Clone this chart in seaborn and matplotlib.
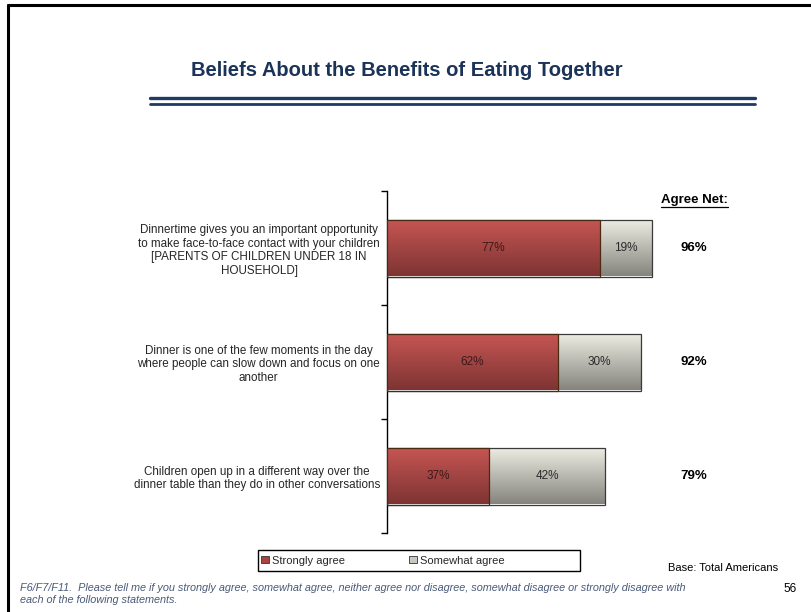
import numpy as np
import pandas as pd
import matplotlib
matplotlib.use("Agg")
import matplotlib.pyplot as plt
import matplotlib.patches as mpatches
from matplotlib.lines import Line2D
import seaborn as sns

statements = [
    "Dinnertime gives you an important opportunity\nto make face-to-face contact with your children\n[PARENTS OF CHILDREN UNDER 18 IN\nHOUSEHOLD]",
    "Dinner is one of the few moments in the day\nwhere people can slow down and focus on one\nanother",
    "Children open up in a different way over the\ndinner table than they do in other conversations",
]
strongly_agree = [77, 62, 37]
somewhat_agree = [19, 30, 42]
agree_net = [96, 92, 79]
series_names = ["Strongly agree", "Somewhat agree"]

sns.set_theme(style="white")
plt.rcParams["font.family"] = ["Liberation Sans", "DejaVu Sans"]
NARROW = ["Liberation Sans Narrow", "Liberation Sans", "DejaVu Sans"]

df = pd.DataFrame({
    "statement": statements,
    "strong": strongly_agree,
    "somewhat": somewhat_agree,
})
df["total"] = df["strong"] + df["somewhat"]

W, H = 812, 612
fig = plt.figure(figsize=(W / 100, H / 100), dpi=100)
fig.patch.set_facecolor("white")

# slide frame (top and left edges)
fig.add_artist(Line2D([8 / W, 1.0], [1 - 5 / H, 1 - 5 / H], color="black", lw=2.2,
                      transform=fig.transFigure))
fig.add_artist(Line2D([8 / W, 8 / W], [0, 1 - 5 / H], color="black", lw=2.2,
                      transform=fig.transFigure))

# title and double rule
fig.text(407 / W, 1 - 70 / H, "Beliefs About the Benefits of Eating Together",
         ha="center", va="center", fontsize=14.5, fontweight="bold",
         color="#1B3358", family=NARROW)
for yy, lw in [(98, 2.4), (104, 2.0)]:
    fig.add_artist(Line2D([150 / W, 755 / W], [1 - yy / H, 1 - yy / H],
                          color="#1F3A63", lw=lw, transform=fig.transFigure))

ax = fig.add_axes([387 / W, 1 - 533 / H, 276 / W, 342 / H])

sns.barplot(data=df, x="total", y="statement", orient="h", color="#C8C8C0",
            width=0.5, ax=ax, label=series_names[1])
sns.barplot(data=df, x="strong", y="statement", orient="h", color="#A94442",
            width=0.5, ax=ax, label=series_names[0])

n = len(statements)
gray_patches = ax.patches[:n]
red_patches = ax.patches[n:2 * n]

def shade(patch, top, bottom, edge, z):
    x0, y0 = patch.get_x(), patch.get_y()
    w, h = patch.get_width(), patch.get_height()
    c0 = np.array(matplotlib.colors.to_rgb(top))
    c1 = np.array(matplotlib.colors.to_rgb(bottom))
    t = np.linspace(0, 1, 64)[:, None]
    grad = (c0 * (1 - t) + c1 * t)[:, None, :]
    im = ax.imshow(grad, extent=[x0, x0 + w, y0 + h, y0], origin="upper",
                   aspect="auto", zorder=z, interpolation="bilinear")
    im.set_clip_path(patch)
    patch.set_facecolor("none")
    patch.set_edgecolor(edge)
    patch.set_linewidth(0.9)
    patch.set_zorder(z + 0.5)

for p in gray_patches:
    shade(p, "#EEEDE3", "#85857E", "#3A3A3A", 2)
for p in red_patches:
    shade(p, "#C65654", "#7E3433", "#4A2A10", 4)

ax.set_xlim(0, 100)
ax.set_ylim(n - 0.5, -0.5)

# value labels inside the bars, net totals to the right
for i in range(n):
    ax.text(df["strong"][i] / 2, i, f"{df['strong'][i]}%", ha="center", va="center",
            fontsize=8.5, color="#3A1A1A", zorder=6)
    ax.text(df["strong"][i] + df["somewhat"][i] / 2, i, f"{df['somewhat'][i]}%",
            ha="center", va="center", fontsize=8.5, color="#2A2A2A", zorder=6)
    ax.text(111, i, f"{agree_net[i]}%", ha="center", va="center", fontsize=9.5,
            fontweight="bold", color="black", clip_on=False)

hdr = ax.text(111.3, -0.42, "Agree Net:", ha="center", va="center", fontsize=9.5,
              fontweight="bold", color="black", clip_on=False)

# axes styling
for s in ["top", "right", "bottom"]:
    ax.spines[s].set_visible(False)
ax.spines["left"].set_color("black")
ax.spines["left"].set_linewidth(1.0)
ax.set_xticks([])
ax.set_xlabel("")
ax.set_ylabel("")
ax.set_yticks(range(n))
ax.set_yticklabels(statements, fontsize=8.4, color="#262626", linespacing=1.22)
for lbl in ax.get_yticklabels():
    lbl.set_multialignment("center")
ax.tick_params(axis="y", which="major", length=0, pad=5)
ax.set_yticks(np.arange(-0.5, n, 1.0), minor=True)
ax.tick_params(axis="y", which="minor", left=True, length=4, width=1.0, color="black",
               direction="out")
ax.grid(False)

# underline for the net header
fig.canvas.draw()
bb = hdr.get_window_extent(fig.canvas.get_renderer())
fig.add_artist(Line2D([bb.x0 / W, bb.x1 / W], [(bb.y0 - 1) / H, (bb.y0 - 1) / H],
                      color="black", lw=0.9, transform=fig.transFigure))

# legend
if ax.get_legend() is not None:
    ax.get_legend().remove()
fig.add_artist(mpatches.Rectangle((258 / W, 1 - 571 / H), 322 / W, 21 / H,
                                  transform=fig.transFigure, fill=False,
                                  edgecolor="black", lw=1.0))
handles = [mpatches.Patch(facecolor="#A94442", edgecolor="#333333", lw=0.6),
           mpatches.Patch(facecolor="#C8C8C0", edgecolor="#333333", lw=0.6)]
fig.legend(handles, series_names, loc="center left",
           bbox_to_anchor=(258 / W, 1 - 560.5 / H), ncol=2, frameon=False,
           fontsize=8, handlelength=0.65, handleheight=0.65, handletextpad=0.35,
           columnspacing=5.75, borderpad=0, borderaxespad=0.3)

# notes
fig.text(668 / W, 1 - 568 / H, "Base: Total Americans", ha="left", va="center",
         fontsize=8, color="black", family=NARROW)
fig.text(797 / W, 1 - 589 / H, "56", ha="right", va="center", fontsize=8.5,
         color="black", family=NARROW)
fig.text(20 / W, 1 - 594 / H,
         "F6/F7/F11.  Please tell me if you strongly agree, somewhat agree, neither agree nor disagree, "
         "somewhat disagree or strongly disagree with\neach of the following statements.",
         ha="left", va="center", fontsize=7.8, style="italic", color="#4A5A78",
         family=NARROW, linespacing=1.3)

fig.savefig("out.png", dpi=100)
